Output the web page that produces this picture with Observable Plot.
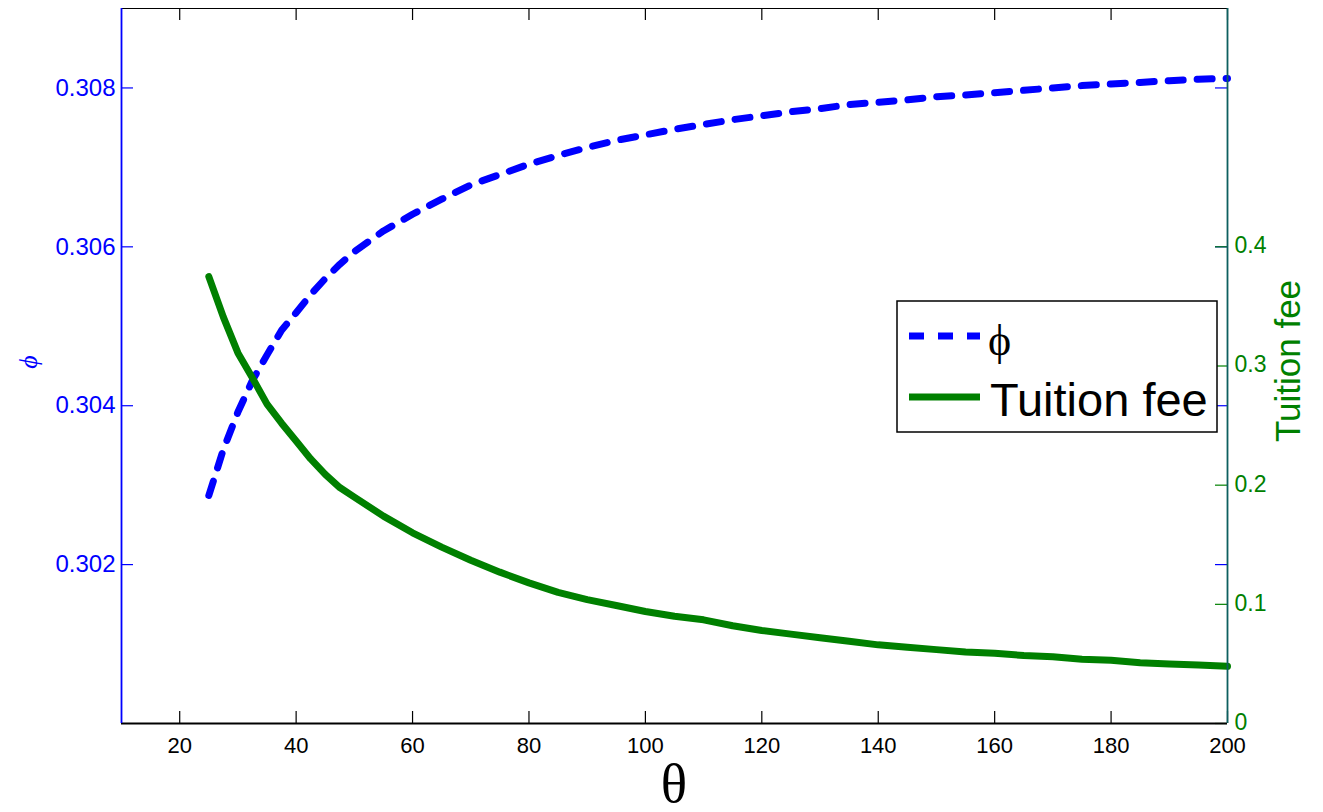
<!DOCTYPE html>
<html><head><meta charset="utf-8">
<script src="https://cdn.jsdelivr.net/npm/d3@7"></script>
<script src="https://cdn.jsdelivr.net/npm/@observablehq/plot@0.6"></script>
<style>html,body{margin:0;padding:0;background:#fff;overflow:hidden}</style>
</head><body><div id="chart"></div>
<script>
// ---- data ----
const theta = [25,27.5,30,32.5,35,37.5,40,42.5,45,47.5,50,55,60,65,70,75,80,85,90,95,100,105,110,115,120,125,130,135,140,145,150,155,160,165,170,175,180,185,190,195,200];
const phi = [0.30287,0.30345,0.30392,0.30432,0.30464,0.30495,0.30517,0.30540,0.30560,0.30578,0.30594,0.30620,0.30641,0.30660,0.30678,0.30691,0.30704,0.30715,0.30725,0.30734,0.30741,0.30748,0.30754,0.30760,0.30765,0.30770,0.30774,0.30779,0.30782,0.30785,0.30789,0.30791,0.30794,0.30797,0.30800,0.30803,0.30805,0.30807,0.30809,0.30811,0.30812];
const fee = [0.375,0.341,0.311,0.290,0.268,0.252,0.237,0.222,0.209,0.198,0.190,0.174,0.160,0.148,0.137,0.127,0.118,0.110,0.104,0.099,0.094,0.090,0.087,0.082,0.078,0.075,0.072,0.069,0.066,0.064,0.062,0.060,0.059,0.057,0.056,0.054,0.053,0.051,0.050,0.049,0.048];
const xTicks = [20,40,60,80,100,120,140,160,180,200];
const phiTicks = [0.302,0.304,0.306,0.308];
const feeTicks = [0,0.1,0.2,0.3,0.4];
const xDomain = [10,200];
const phiDomain = [0.300,0.309];
const feeDomain = [0,0.6];
const xLabel = "θ";
const phiLabel = "ϕ";
const feeLabel = "Tuition fee";
const seriesNames = ["ϕ","Tuition fee"];

// ---- helpers ----
const toPhi = f => phiDomain[0] + (f - feeDomain[0]) * (phiDomain[1]-phiDomain[0])/(feeDomain[1]-feeDomain[0]);
const toFee = p => feeDomain[0] + (p - phiDomain[0]) * (feeDomain[1]-feeDomain[0])/(phiDomain[1]-phiDomain[0]);
const data = theta.map((t,i)=>({t, phi: phi[i], fee: fee[i]}));

const W=1323, H=812, mL=121, mR=96, mT=8, mB=89;
const innerH = H-mT-mB, innerW = W-mL-mR, T = 12;
const BLUE="#0000ff", GREEN="#008000", TEAL="#0d5f5f";
const SANS = '"Liberation Sans", Arial, Helvetica, sans-serif';
const SERIF = '"Liberation Serif", "Times New Roman", serif';

const plot = Plot.plot({
  width: W, height: H, marginLeft: mL, marginRight: mR, marginTop: mT, marginBottom: mB,
  style: {fontFamily: SANS, fontSize: "23px", background: "white", overflow: "visible"},
  x: {domain: xDomain},
  y: {domain: phiDomain},
  marks: [
    Plot.tickX(xTicks, {x: d=>d, stroke:"black", strokeWidth:1.2, insetTop: innerH - T}),
    Plot.tickX(xTicks, {x: d=>d, stroke:"black", strokeWidth:1.2, insetBottom: innerH - T}),
    Plot.tickY(phiTicks, {y: d=>d, stroke:BLUE, strokeWidth:1.2, insetRight: innerW - T}),
    Plot.tickY(phiTicks, {y: d=>d, stroke:BLUE, strokeWidth:1.2, insetLeft: innerW - T}),
    Plot.tickY(feeTicks.map(toPhi), {y: d=>d, stroke:GREEN, strokeWidth:1.2, insetLeft: innerW - T}),
    Plot.line(data, {x:"t", y:"phi", stroke:BLUE, strokeWidth:7, strokeDasharray:"15,14"}),
    Plot.line(data, {x:"t", y: d=>toPhi(d.fee), stroke:GREEN, strokeWidth:7}),
    Plot.ruleY([phiDomain[1]], {stroke:"black", strokeWidth:1.2}),
    Plot.ruleY([phiDomain[0]], {stroke:"black", strokeWidth:1.8}),
    Plot.ruleX([xDomain[0]], {stroke:BLUE, strokeWidth:1.8}),
    Plot.ruleX([xDomain[1]], {stroke:TEAL, strokeWidth:1.8}),
    Plot.axisX(xTicks, {tickSize:0, tickPadding:14, fill:"black", label:null, fontSize:22}),
    Plot.axisY(phiTicks, {anchor:"left", tickSize:0, tickPadding:6, fill:BLUE, label:null, fontSize:24, tickFormat: d3.format(".3f")}),
    Plot.axisY(feeTicks.map(toPhi), {anchor:"right", tickSize:0, tickPadding:7, fill:GREEN, label:null, fontSize:23, dy:-1, tickFormat: p => String(+toFee(p).toFixed(1))})
  ]
});
document.getElementById("chart").appendChild(plot);

// ---- axis titles and legend ----
const svg = d3.select(plot);
svg.append("text").attr("x", (mL + W - mR)/2).attr("y", 802)
  .attr("text-anchor","middle").attr("font-family",SERIF)
  .attr("font-size", 55).attr("fill","black").text(xLabel);
svg.append("text").attr("transform","translate(37,362) rotate(-90)")
  .attr("text-anchor","middle").attr("font-family",SERIF)
  .attr("font-style","italic").attr("font-size", 26).attr("fill",BLUE).text(phiLabel);
svg.append("text").attr("transform","translate(1300,361) rotate(-90)")
  .attr("text-anchor","middle").attr("font-family",SANS)
  .attr("font-size", 35).attr("fill",GREEN).text(feeLabel);

const lg = svg.append("g").attr("text-anchor","start");
lg.append("rect").attr("x",897).attr("y",301).attr("width",320).attr("height",131)
  .attr("fill","white").attr("stroke","black").attr("stroke-width",1.5);
lg.append("line").attr("x1",909).attr("x2",980).attr("y1",336).attr("y2",336)
  .attr("stroke",BLUE).attr("stroke-width",7).attr("stroke-dasharray","15,14");
lg.append("line").attr("x1",909).attr("x2",980).attr("y1",397).attr("y2",397)
  .attr("stroke",GREEN).attr("stroke-width",7);
lg.append("text").attr("x",988).attr("y",355).attr("text-anchor","start").attr("font-family",SERIF)
  .attr("font-size",44).attr("fill","black").text(seriesNames[0]);
lg.append("text").attr("x",990).attr("y",416).attr("text-anchor","start").attr("font-family",SANS)
  .attr("font-size",47).attr("fill","black").text(seriesNames[1]);
</script>
</body></html>
